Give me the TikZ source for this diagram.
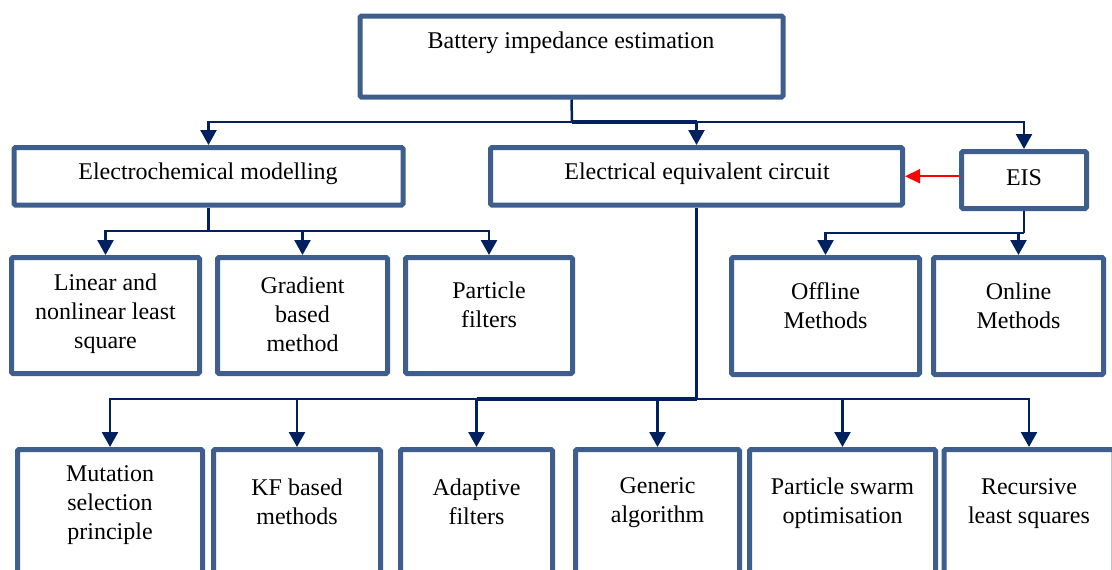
\documentclass[tikz,border=0pt]{standalone}
\usepackage{fontspec}
\setmainfont{Liberation Serif}
\usetikzlibrary{arrows.meta}
\definecolor{boxblue}{HTML}{3E5F8E}
\definecolor{linknavy}{HTML}{002060}
\definecolor{linkred}{HTML}{FF0000}
\begin{document}
\begin{tikzpicture}[x=1pt,y=-1pt,
  box/.style={draw=boxblue, line width=5pt, rounded corners=1.5pt, fill=white, inner sep=0pt},
  lbl/.style={align=center, font=\fontsize{24}{29}\selectfont, inner sep=0pt},
  conn/.style={draw=linknavy, line width=2.5pt},
  trunk/.style={draw=linknavy, line width=4pt},
  arr/.style={conn, -{Triangle[width=16pt,length=15pt]}},
  redarr/.style={draw=linkred, line width=2pt, -{Triangle[width=14pt,length=15pt]}}]
\path[use as bounding box, clip] (0,0) rectangle (1112,570);

% level 0
\node[box, minimum width=423pt, minimum height=81pt] (top) at (571.5,56.5) {};
\node[lbl] (topL) at (571,43) {Battery impedance estimation};

% level 1
\node[box, minimum width=389pt, minimum height=57.5pt] (ecm) at (208.5,176.25) {};
\node[lbl] (ecmL) at (208,174) {Electrochemical modelling};
\node[box, minimum width=412pt, minimum height=57.5pt] (eec) at (696.5,176.25) {};
\node[lbl] (eecL) at (697,174) {Electrical equivalent circuit};
\node[box, minimum width=125pt, minimum height=57pt] (eis) at (1024,180) {};
\node[lbl] (eisL) at (1024,178) {EIS};

% level 2
\node[box, minimum width=188pt, minimum height=116pt] (lin) at (105.5,315.5) {};
\node[lbl] (linL) at (105.5,314) {Linear and\\nonlinear least\\square};
\node[box, minimum width=170pt, minimum height=116pt] (grad) at (302.5,315.5) {};
\node[lbl] (gradL) at (302.5,314) {Gradient\\based\\method};
\node[box, minimum width=167pt, minimum height=116pt] (pf) at (489,315.5) {};
\node[lbl] (pfL) at (489,304.5) {Particle\\filters};
\node[box, minimum width=188pt, minimum height=117pt] (off) at (825.5,316) {};
\node[lbl] (offL) at (825.5,305.5) {Offline\\Methods};
\node[box, minimum width=170pt, minimum height=117pt] (on) at (1018.5,316) {};
\node[lbl] (onL) at (1018.5,305.5) {Online\\Methods};

% level 3 (runs past the lower edge)
\node[box, minimum width=185pt, minimum height=150pt] (mut) at (110,524.5) {};
\node[lbl] (mutL) at (110,505) {Mutation\\selection\\principle};
\node[box, minimum width=167pt, minimum height=150pt] (kf) at (297,524.5) {};
\node[lbl] (kfL) at (297,501.5) {KF based\\methods};
\node[box, minimum width=152pt, minimum height=150pt] (ada) at (476.5,524.5) {};
\node[lbl] (adaL) at (476.5,501.5) {Adaptive\\filters};
\node[box, minimum width=164pt, minimum height=150pt] (gen) at (657.5,524.5) {};
\node[lbl] (genL) at (657.5,503) {Generic\\algorithm};
\node[box, minimum width=186pt, minimum height=150pt] (pso) at (842.5,524.5) {};
\node[lbl] (psoL) at (842.5,503) {Particle swarm\\optimisation};
\node[box, minimum width=170pt, minimum height=150pt] (rls) at (1029,524.5) {};
\node[lbl] (rlsL) at (1029,503.5) {Recursive\\least squares};

% junction points
\coordinate (j0) at (572,122);
\coordinate (j1) at (208.5,231);
\coordinate (j2) at (1024,233);
\coordinate (j3) at (696.5,399);

% root to level 1
\draw[conn] (top.south) -- (j0);
\draw[arr] (j0) -| (ecm.north);
\draw[arr] (j0) -| (eec.north);
\draw[arr] (j0) -| (eis.north);
\draw[trunk] (j0) -- (eec.north |- j0);

% electrochemical modelling branches
\draw[conn] (ecm.south) -- (j1);
\draw[arr] (j1) -| (lin.north);
\draw[arr] (j1) -| (grad.north);
\draw[arr] (j1) -| (pf.north);

% EIS branches
\draw[conn] (eis.south) -- (j2);
\draw[arr] (j2) -| (off.north);
\draw[arr] (j2) -- (on.north |- j2) -- (on.north);
\draw[redarr] (eis.west |- eec.east) -- (eec.east);

% equivalent circuit branches
\draw[conn] (eec.south) -- (j3);
\draw[arr] (j3) -| (mut.north);
\draw[arr] (j3) -| (kf.north);
\draw[arr] (j3) -| (ada.north);
\draw[arr] (j3) -| (gen.north);
\draw[arr] (j3) -| (pso.north);
\draw[arr] (j3) -| (rls.north);
\draw[trunk] (ada.north |- j3) -- (j3);
\end{tikzpicture}
\end{document}
